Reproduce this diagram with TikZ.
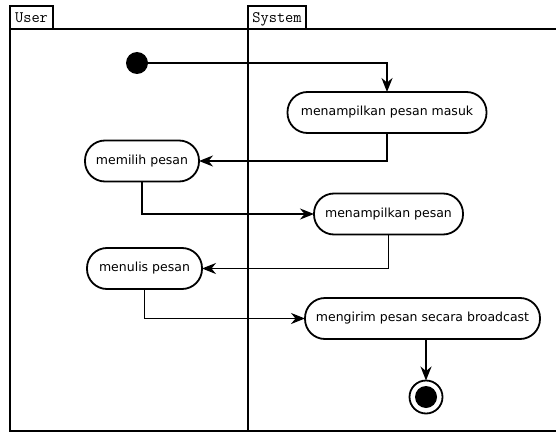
\documentclass[tikz,border=0pt]{standalone}
\usepackage{fontspec}
\setmainfont{DejaVu Sans}
\usetikzlibrary{arrows.meta}
\begin{document}
\begin{tikzpicture}[x=1pt,y=-1pt,
  every node/.style={inner sep=0pt, outer sep=0pt},
  action/.style={draw, line width=1.8pt, rounded corners=20pt, minimum height=41pt,
    font=\fontsize{12.5}{14}\selectfont, inner xsep=8pt},
  lanehead/.style={draw, line width=1.8pt, font=\ttfamily\fontsize{16}{16}\selectfont,
    anchor=south west, minimum height=23pt, inner xsep=1.5pt, text depth=0pt},
  flow/.style={line width=1.8pt, -{Stealth[length=14pt,width=11pt]}},
  frame/.style={line width=2pt}]
\useasboundingbox (0,0) rectangle (556,433);
% swimlane frame
\draw[frame] (556,29) -- (10,29) -- (10,431) -- (556,431);
\draw[frame] (248,29) -- (248,431);
\node[lanehead, minimum width=43pt] (user) at (10,29) {User\hfill};
\node[lanehead, minimum width=58pt] (system) at (248,29) {System\hfill};
% nodes
\node[circle, fill=black, minimum size=22pt] (start) at (137,63) {};
\node[action, minimum width=199pt] (show1) at (387,112.5) {menampilkan pesan masuk};
\node[action, minimum width=114pt] (pick) at (142,161) {memilih pesan};
\node[action, minimum width=149pt] (show2) at (388.5,214) {menampilkan pesan};
\node[action, minimum width=115pt] (write) at (144.5,268.5) {menulis pesan};
\node[action, minimum width=235pt] (send) at (422.5,318.5) {mengirim pesan secara broadcast};
\node[circle, draw, line width=1.8pt, minimum size=33pt] (end) at (426,397) {};
\fill (end.center) circle (11pt);
% flows
\draw[flow] (start.east) -| (show1.north);
\draw[flow] (show1.south) |- (pick.east);
\draw[flow] (pick.south) |- (show2.west);
\draw[flow] (show2.south) |- (write.east);
\draw[flow] (write.south) |- (send.west);
\draw[flow] (send.south -| end.north) -- (end.north);
\end{tikzpicture}
\end{document}
